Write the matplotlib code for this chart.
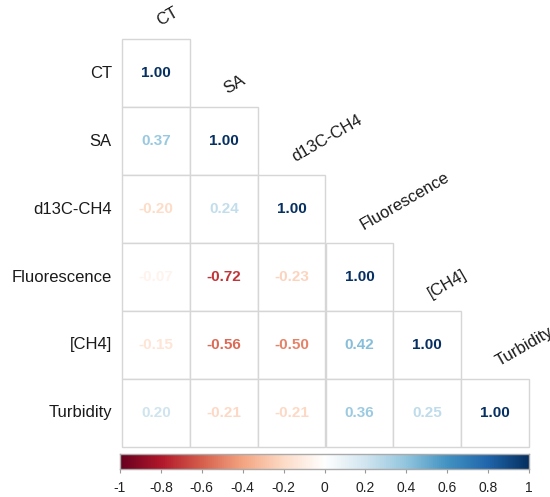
import matplotlib
matplotlib.use("Agg")
import matplotlib.pyplot as plt
from matplotlib.colors import LinearSegmentedColormap
from matplotlib.patches import Rectangle
import numpy as np

plt.rcParams['font.family'] = ['Liberation Sans', 'DejaVu Sans']

variables = ["CT", "SA", "d13C-CH4", "Fluorescence", "[CH4]", "Turbidity"]

# lower-triangle correlation rows
row_ct = [1.00]
row_sa = [0.37, 1.00]
row_d13c = [-0.20, 0.24, 1.00]
row_fluor = [-0.07, -0.72, -0.23, 1.00]
row_ch4 = [-0.15, -0.56, -0.50, 0.42, 1.00]
row_turb = [0.20, -0.21, -0.21, 0.36, 0.25, 1.00]
corr_rows = [row_ct, row_sa, row_d13c, row_fluor, row_ch4, row_turb]

cbar_ticks = [-1, -0.8, -0.6, -0.4, -0.2, 0, 0.2, 0.4, 0.6, 0.8, 1]
cbar_ticklabels = ["-1", "-0.8", "-0.6", "-0.4", "-0.2", "0", "0.2", "0.4", "0.6", "0.8", "1"]

rdbu = LinearSegmentedColormap.from_list(
    "rdbu_corr",
    ["#67001F", "#B2182B", "#D6604D", "#F4A582", "#FDDBC7", "#FFFFFF",
     "#D1E5F0", "#92C5DE", "#4393C3", "#2166AC", "#053061"], N=200)

def to_color(v):
    return rdbu((v + 1) / 2)

W, H = 550, 497
fig = plt.figure(figsize=(W / 100, H / 100), dpi=100)

n = len(variables)
gx0, gx1, gy0, gy1 = 122, 529, 39, 447
ax = fig.add_axes([gx0 / W, 1 - gy1 / H, (gx1 - gx0) / W, (gy1 - gy0) / H])
ax.set_xlim(0, n)
ax.set_ylim(n, 0)
ax.axis("off")

grid_col = "#d6d6d6"
for i, row in enumerate(corr_rows):
    for j, v in enumerate(row):
        ax.add_patch(Rectangle((j, i), 1, 1, facecolor="white",
                               edgecolor=grid_col, linewidth=1.0, clip_on=False))
        ax.text(j + 0.5, i + 0.5, f"{v:.2f}", ha="center", va="center",
                fontsize=11, fontweight="bold", color=to_color(v))

for i, name in enumerate(variables):
    # row label on the left
    ax.text(-0.15, i + 0.5, name, ha="right", va="center", fontsize=12,
            color="#1a1a1a", clip_on=False)
    # column label above the diagonal cell
    ax.text(i + 0.47, i - 0.15, name, ha="left", va="bottom", fontsize=12,
            rotation=30, color="#1a1a1a", clip_on=False)

# colour legend
cx0, cx1, cy0, cy1 = 120, 529, 454, 469
cax = fig.add_axes([cx0 / W, 1 - cy1 / H, (cx1 - cx0) / W, (cy1 - cy0) / H])
grad = np.linspace(-1, 1, 400).reshape(1, -1)
cax.imshow(grad, cmap=rdbu, vmin=-1, vmax=1, aspect="auto",
           extent=[-1, 1, 0, 1])
cax.set_xlim(-1, 1)
cax.set_yticks([])
cax.set_xticks(cbar_ticks)
cax.set_xticklabels(cbar_ticklabels, fontsize=10, color="#222222")
cax.tick_params(axis="x", length=3, width=0.8, color="#999999", pad=6)
for s in cax.spines.values():
    s.set_edgecolor("#aaaaaa")
    s.set_linewidth(1.0)

fig.savefig("out.png", dpi=100)
